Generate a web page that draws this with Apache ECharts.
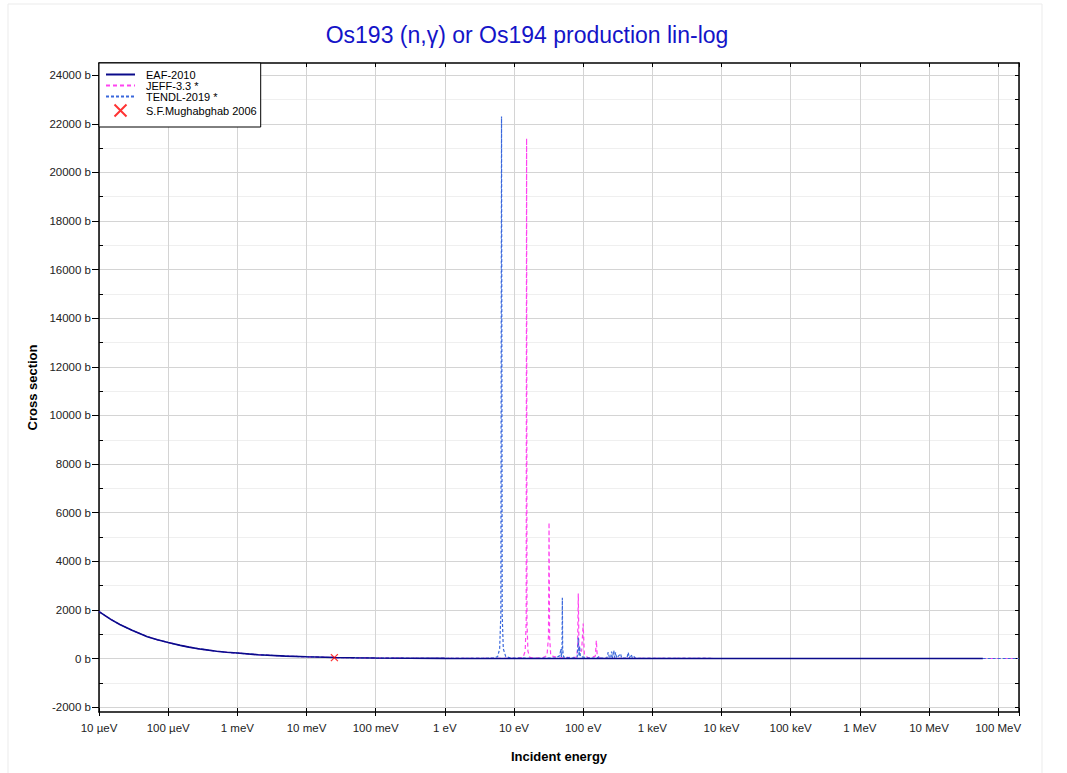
<!DOCTYPE html>
<html><head><meta charset="utf-8">
<script src="https://cdn.jsdelivr.net/npm/echarts@6/dist/echarts.min.js"></script>
<style>html,body{margin:0;padding:0;background:#fff}#c{width:1067px;height:773px}</style>
</head><body><div id="c"></div>
<script>
// ---- tick labels ----
const xTickLabels = ['10 µeV','100 µeV','1 meV','10 meV','100 meV','1 eV','10 eV','100 eV','1 keV','10 keV','100 keV','1 MeV','10 MeV','100 MeV'];
const yTickValues = [-2000,0,2000,4000,6000,8000,10000,12000,14000,16000,18000,20000,22000,24000];
const yMinorValues = [-1000,1000,3000,5000,7000,9000,11000,13000,15000,17000,19000,21000,23000];
const yAllValues = [-2000,-1000,0,1000,2000,3000,4000,5000,6000,7000,8000,9000,10000,11000,12000,13000,14000,15000,16000,17000,18000,19000,20000,21000,22000,23000,24000];

// ---- series data (energy in eV, cross section in b) ----
const eafE = [1e-5,1.5e-5,2e-5,3e-5,5e-5,7e-5,1e-4,1.5e-4,2e-4,3e-4,5e-4,7e-4,1e-3,2e-3,5e-3,1e-2,2.53e-2,0.05,0.1,0.3,1,10,100,1e3,1e4,1e5,1e6,1e7,6e7];
const eafS = [1930,1600,1400,1160,900,770,660,540,470,385,300,255,225,155,100,72,42,29,20,11.5,6.5,2.5,1.5,1.2,0.6,0.3,0.12,0.004,0.001];

const jeffE = [1e-5,1.5e-5,2e-5,3e-5,5e-5,7e-5,1e-4,1.5e-4,2e-4,3e-4,5e-4,7e-4,1e-3,2e-3,5e-3,1e-2,2.53e-2,0.05,0.1,0.3,1,5,10,13.5,14.5,15.0,15.2,15.4,15.9,17,25,30,31.5,32.1,32.7,34,45,80,83,85,87,95,100,104,120,150,155,160,180,1e3,1e4,1e5,1e6,1e7,2e8];
const jeffS = [1930,1600,1400,1160,900,770,660,540,470,385,300,255,225,155,100,72,42,29,20,11.5,6.5,5,8,40,300,1500,21400,1500,300,40,15,120,900,5600,900,120,20,60,400,2670,300,300,1440,150,20,100,740,80,10,5,1.5,0.5,0.15,0.01,0.0005];

const tendlE = [1e-5,1.5e-5,2e-5,3e-5,5e-5,7e-5,1e-4,1.5e-4,2e-4,3e-4,5e-4,7e-4,1e-3,2e-3,5e-3,1e-2,2.53e-2,0.05,0.1,0.3,1,3,5.0,5.8,6.2,6.45,6.6,6.75,7.0,7.6,9,20,40,46,47.5,48.5,49.5,50,50.5,52,70,82,85,87,89,91,120,160,168,175,220,230,240,250,257,265,277,285,294,305,347,360,430,448,465,495,515,547,570,800,1e3,1e4,1e5,1e6,1e7,2e8];
const tendlS = [1930,1600,1400,1160,900,770,660,540,470,385,300,255,225,155,100,72,42,29,20,11.5,7,6,15,80,400,1800,22300,1800,400,80,20,8,20,120,400,60,400,2500,400,60,20,60,860,100,500,80,15,20,80,15,20,260,20,30,290,30,330,30,250,20,200,20,20,250,20,165,15,80,10,6,5,1.5,0.5,0.15,0.01,0.0005];

const expE = [0.0253];
const expS = [38];

const toPts = (E, S) => E.map((e, i) => [Math.log10(e), S[i]]);
const X_MIN = -5, X_MAX = Math.log10(2e8);
const Y_MIN = -2200, Y_MAX = 24500;
const FONT = '"Liberation Sans", Arial, sans-serif';

const chart = echarts.init(document.getElementById('c'), null, {renderer: 'svg'});
const blackLine = {color: '#000', width: 1.5};
const noSym = {opacity: 0};
chart.setOption({
  animation: false,
  backgroundColor: '#fff',
  textStyle: {fontFamily: FONT},
  graphic: [
    {type: 'rect', shape: {x: 8, y: 4, width: 1034, height: 800}, style: {fill: 'none', stroke: '#ebebeb', lineWidth: 1}, silent: true, z: -10},
    {type: 'text', x: 527, y: 35, style: {text: 'Os193 (n,γ) or Os194 production lin-log', fill: '#1414c8', font: '23px ' + FONT, textAlign: 'center', textVerticalAlign: 'middle'}}
  ],
  grid: {left: 99, right: 48, top: 63, bottom: 61, containLabel: false},
  legend: {
    left: 99, top: 63, orient: 'vertical', itemWidth: 29, itemHeight: 12, itemGap: 0,
    padding: [6, 4, 8, 6], backgroundColor: '#fff', borderColor: '#000', borderWidth: 1,
    textStyle: {fontSize: 11, color: '#000', padding: [0, 0, 0, 6]},
    data: [
      {name: 'EAF-2010', itemStyle: noSym},
      {name: 'JEFF-3.3 *', itemStyle: noSym},
      {name: 'TENDL-2019 *', itemStyle: noSym},
      {name: 'S.F.Mughabghab 2006'}
    ]
  },
  xAxis: [
    {type: 'value', min: X_MIN, max: X_MAX, interval: 1, position: 'bottom',
     axisLine: {onZero: false, lineStyle: blackLine},
     axisTick: {show: true, length: 4, lineStyle: {color: '#000'}},
     axisLabel: {margin: 10, fontSize: 11.5, color: '#222',
       formatter: v => { const r = Math.round(v); return Math.abs(v - r) < 1e-6 ? (xTickLabels[r + 5] || '') : ''; }},
     splitLine: {show: true, lineStyle: {color: '#d4d4d4', width: 1}},
     name: 'Incident energy', nameLocation: 'middle', nameGap: 38,
     nameTextStyle: {fontWeight: 'bold', fontSize: 13, color: '#000'}},
    {type: 'value', min: X_MIN, max: X_MAX, interval: 1, position: 'bottom',
     axisLine: {show: false, onZero: false}, axisTick: {show: true, inside: true, length: 4, lineStyle: {color: '#000'}},
     axisLabel: {show: false}, splitLine: {show: false}},
    {type: 'value', min: X_MIN, max: X_MAX, interval: 1, position: 'top',
     axisLine: {show: true, onZero: false, lineStyle: blackLine}, axisTick: {show: true, inside: true, length: 4, lineStyle: {color: '#000'}},
     axisLabel: {show: false}, splitLine: {show: false}}
  ],
  yAxis: [
    {type: 'value', min: Y_MIN, max: Y_MAX, position: 'left',
     axisLine: {show: true, onZero: false, lineStyle: blackLine},
     axisTick: {show: true, length: 7, customValues: yTickValues, lineStyle: {color: '#000'}},
     axisLabel: {customValues: yTickValues, formatter: v => v + ' b', margin: 8, fontSize: 11.5, color: '#222'},
     splitLine: {show: true, lineStyle: {color: '#d4d4d4', width: 1}},
     name: 'Cross section', nameLocation: 'middle', nameGap: 58,
     nameTextStyle: {fontWeight: 'bold', fontSize: 13, color: '#000'}},
    {type: 'value', min: Y_MIN, max: Y_MAX, position: 'left',
     axisLine: {show: false, onZero: false},
     axisTick: {show: true, inside: true, length: 4, customValues: yMinorValues, lineStyle: {color: '#000'}},
     axisLabel: {show: false},
     splitLine: {show: true, lineStyle: {color: '#efefef', width: 1}}},
    {type: 'value', min: Y_MIN, max: Y_MAX, position: 'right',
     axisLine: {show: true, onZero: false, lineStyle: blackLine},
     axisTick: {show: true, inside: true, length: 4, customValues: yAllValues, lineStyle: {color: '#000'}},
     axisLabel: {show: false}, splitLine: {show: false}}
  ],
  series: [
    {name: 'EAF-2010', type: 'line', data: toPts(eafE, eafS), showSymbol: false, symbol: 'none', z: 4,
     lineStyle: {color: '#0a0a8a', width: 1.6}, itemStyle: {color: '#0a0a8a'}},
    {name: 'JEFF-3.3 *', type: 'line', data: toPts(jeffE, jeffS), showSymbol: false, symbol: 'none', z: 2,
     lineStyle: {color: '#ff44f0', width: 1.2, type: [4, 3]}, itemStyle: {color: '#ff44f0'}},
    {name: 'TENDL-2019 *', type: 'line', data: toPts(tendlE, tendlS), showSymbol: false, symbol: 'none', z: 3,
     lineStyle: {color: '#3a68dc', width: 1.2, type: [3, 2]}, itemStyle: {color: '#3a68dc'}},
    {name: 'S.F.Mughabghab 2006', type: 'scatter', data: toPts(expE, expS), z: 10,
     symbol: 'path://M0,0L10,10M10,0L0,10', symbolSize: 7,
     itemStyle: {color: 'none', borderColor: '#ff0000', borderWidth: 1.3}}
  ]
});
</script></body></html>
